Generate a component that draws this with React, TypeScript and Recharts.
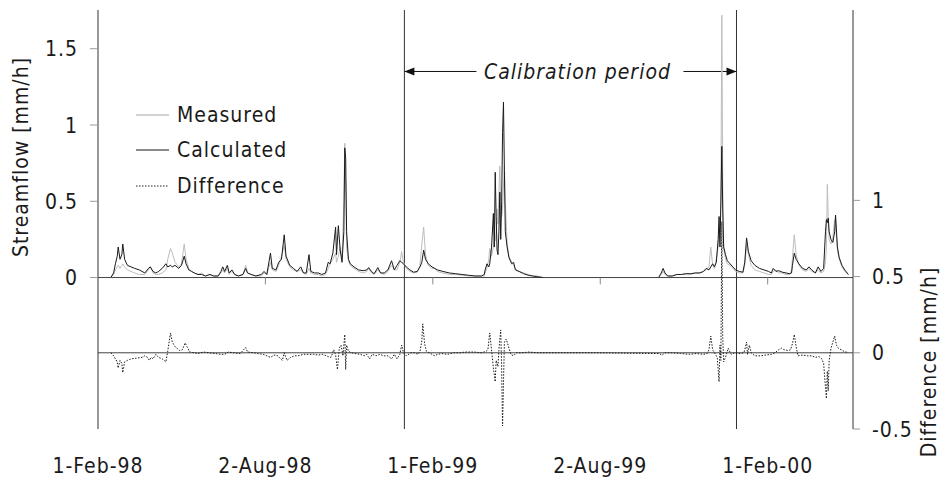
import { LineChart, Line, XAxis, YAxis, ReferenceLine } from 'recharts';

const FONT = "'DejaVu Sans Condensed', 'DejaVu Sans', sans-serif";
const TEXT_COLOR = '#1a1a1a';

// x axis: days since 1-Feb-98
const tickDays = [0, 182.5, 365, 547.5, 730];
const tickLabels = ['1-Feb-98', '2-Aug-98', '1-Feb-99', '2-Aug-99', '1-Feb-00'];
const flowTicks = [0, 0.5, 1, 1.5];
const diffTicks = [-0.5, 0, 0.5, 1];
const calibrationStart = 334;
const calibrationEnd = 696;
const lastDay = 823;

const flowDays = [
  14, 17, 19, 21, 22, 24, 26, 27, 29, 32,
  36, 40, 45, 51, 55, 57, 60, 63, 66, 70,
  74, 76, 79, 81, 84, 88, 91, 94, 96, 99,
  102, 105, 109, 113, 117, 122, 126, 131, 134, 136,
  138, 141, 143, 146, 149, 153, 158, 161, 163, 167,
  172, 178, 181, 184, 188, 190, 194, 197, 200, 203,
  205, 209, 213, 217, 221, 224, 227, 230, 232, 236,
  240, 244, 248, 251, 253, 256, 259, 260, 262, 264,
  266, 268, 269, 270, 271, 273, 275, 279, 284, 289,
  293, 295, 298, 301, 305, 308, 312, 316, 320, 323,
  326, 329, 331, 333, 336, 340, 344, 348, 351, 353,
  355, 357, 360, 364, 367, 370, 376, 383, 390, 397,
  404, 411, 418, 421, 422, 424, 426, 427, 429, 431,
  432, 433, 434, 435, 436, 437, 438, 439, 440, 441,
  442, 443, 444, 446, 448, 451, 453, 455, 459, 464,
  469, 474, 479, 485, 548, 611, 614, 616, 618, 621,
  626, 631, 636, 641, 646, 651, 656, 660, 663, 666,
  668, 670, 672, 674, 676, 677, 678, 679, 680, 681,
  682, 684, 686, 689, 692, 695, 699, 703, 705, 707,
  709, 712, 716, 721, 726, 731, 734, 736, 739, 742,
  746, 750, 754, 756, 757, 759, 761, 764, 768, 772,
  775, 778, 782, 785, 788, 791, 793, 794, 795, 796,
  797, 799, 801, 803, 804, 806, 808, 811, 814, 818,
];

const measured = [
  0.0, 0.02, 0.05, 0.07, 0.08, 0.06, 0.08, 0.09, 0.07, 0.05,
  0.04, 0.03, 0.02, 0.02, 0.05, 0.07, 0.03, 0.02, 0.02, 0.03,
  0.05, 0.12, 0.19, 0.16, 0.1, 0.07, 0.09, 0.22, 0.12, 0.06,
  0.04, 0.03, 0.02, 0.03, 0.01, 0.02, 0.01, 0.01, 0.03, 0.05,
  0.03, 0.06, 0.02, 0.04, 0.02, 0.01, 0.02, 0.08, 0.03, 0.02,
  0.01, 0.01, 0.03, 0.02, 0.1, 0.05, 0.04, 0.08, 0.14, 0.21,
  0.12, 0.07, 0.05, 0.04, 0.05, 0.03, 0.02, 0.06, 0.03, 0.02,
  0.02, 0.01, 0.02, 0.06, 0.09, 0.12, 0.16, 0.1, 0.14, 0.2,
  0.12, 0.5, 0.88, 0.6, 0.2, 0.11, 0.08, 0.06, 0.04, 0.03,
  0.04, 0.06, 0.03, 0.02, 0.05, 0.03, 0.02, 0.04, 0.08, 0.05,
  0.05, 0.1, 0.17, 0.1, 0.06, 0.04, 0.03, 0.035, 0.08, 0.22,
  0.33, 0.15, 0.08, 0.06, 0.06, 0.04, 0.03, 0.02, 0.02, 0.015,
  0.01, 0.01, 0.01, 0.01, 0.03, 0.06, 0.12, 0.19, 0.14, 0.2,
  0.25, 0.24, 0.3, 0.45, 0.35, 0.55, 0.73, 0.48, 0.4, 0.45,
  0.6, 0.73, 0.5, 0.22, 0.14, 0.1, 0.08, 0.06, 0.04, 0.03,
  0.02, 0.01, 0.01, 0.0, null, 0.0, 0.02, 0.04, 0.02, 0.01,
  0.01, 0.02, 0.02, 0.025, 0.02, 0.03, 0.03, 0.04, 0.05, 0.07,
  0.2, 0.08, 0.06, 0.12, 0.2, 0.3, 0.25, 0.55, 1.72, 0.59,
  0.2, 0.12, 0.09, 0.08, 0.06, 0.04, 0.03, 0.03, 0.08, 0.21,
  0.15, 0.08, 0.05, 0.04, 0.03, 0.02, 0.02, 0.04, 0.05, 0.03,
  0.03, 0.02, 0.02, 0.05, 0.13, 0.28, 0.15, 0.08, 0.05, 0.04,
  0.06, 0.04, 0.03, 0.05, 0.03, 0.04, 0.1, 0.2, 0.61, 0.4,
  0.25, 0.22, 0.26, 0.38, 0.35, 0.18, 0.12, 0.07, 0.04, 0.02,
];

const calculated = [
  0.0, 0.03, 0.09, 0.14, 0.2, 0.12, 0.15, 0.22, 0.12, 0.08,
  0.07, 0.06, 0.05, 0.03, 0.06, 0.07, 0.04, 0.03, 0.04, 0.06,
  0.09, 0.07, 0.08, 0.07, 0.08, 0.06, 0.08, 0.14, 0.09, 0.05,
  0.04, 0.03, 0.02, 0.02, 0.01, 0.02, 0.01, 0.01, 0.04, 0.07,
  0.04, 0.08, 0.03, 0.05, 0.02, 0.01, 0.02, 0.06, 0.03, 0.02,
  0.01, 0.02, 0.04, 0.02, 0.16, 0.06, 0.05, 0.1, 0.12, 0.28,
  0.14, 0.08, 0.06, 0.04, 0.07, 0.03, 0.03, 0.15, 0.04, 0.03,
  0.03, 0.02, 0.03, 0.1, 0.09, 0.16, 0.33, 0.15, 0.34, 0.18,
  0.1, 0.3, 0.85, 0.78, 0.3, 0.12, 0.09, 0.07, 0.05, 0.045,
  0.05, 0.065, 0.04, 0.025, 0.065, 0.03, 0.03, 0.05, 0.11, 0.05,
  0.08, 0.11, 0.1, 0.09, 0.07, 0.05, 0.035, 0.04, 0.07, 0.1,
  0.18, 0.12, 0.09, 0.07, 0.06, 0.05, 0.04, 0.03, 0.025, 0.02,
  0.015, 0.01, 0.01, 0.02, 0.05, 0.09, 0.07, 0.09, 0.2, 0.42,
  0.2, 0.69, 0.4, 0.18, 0.15, 0.3, 0.56, 0.25, 0.5, 0.95,
  1.15, 0.7, 0.3, 0.2, 0.13, 0.09, 0.1, 0.05, 0.04, 0.025,
  0.015, 0.01, 0.005, 0.0, null, 0.0, 0.03, 0.06, 0.03, 0.01,
  0.01, 0.02, 0.02, 0.025, 0.025, 0.03, 0.03, 0.04, 0.06, 0.05,
  0.07, 0.09, 0.07, 0.1, 0.25, 0.4, 0.2, 0.5, 0.86, 0.45,
  0.2, 0.15, 0.11, 0.09, 0.07, 0.05, 0.04, 0.035, 0.1, 0.26,
  0.17, 0.11, 0.08, 0.06, 0.05, 0.04, 0.03, 0.06, 0.04, 0.045,
  0.035, 0.03, 0.025, 0.03, 0.08, 0.16, 0.12, 0.09, 0.06, 0.05,
  0.07, 0.05, 0.03, 0.07, 0.04, 0.06, 0.3, 0.38, 0.36, 0.39,
  0.3, 0.25, 0.23, 0.3, 0.41, 0.2, 0.13, 0.08, 0.05, 0.02,
];

const diffDays = [
  14, 17, 19, 21, 22, 24, 26, 27, 29, 32,
  36, 42, 48, 51, 54, 56, 58, 60, 63, 66,
  70, 74, 76, 79, 81, 84, 86, 89, 92, 95,
  97, 100, 105, 109, 115, 121, 128, 134, 138, 142,
  148, 155, 161, 163, 170, 174, 180, 184, 188, 192,
  196, 199, 201, 203, 206, 210, 214, 218, 224, 229,
  235, 240, 245, 251, 254, 257, 259, 261, 263, 265,
  267, 269, 270, 271, 273, 276, 280, 286, 290, 293,
  296, 299, 303, 307, 312, 316, 320, 323, 326, 329,
  331, 333, 336, 341, 345, 349, 351, 353, 354, 356,
  358, 361, 364, 367, 370, 375, 381, 388, 395, 400,
  410, 418, 423, 425, 427, 429, 431, 433, 434, 436,
  437, 439, 440, 441, 442, 443, 445, 448, 450, 453,
  456, 462, 470, 478, 545, 612, 615, 618, 625, 635,
  645, 652, 660, 664, 666, 668, 670, 673, 675, 677,
  678, 679, 680, 681, 682, 684, 687, 690, 694, 700,
  704, 705, 707, 708, 710, 712, 716, 722, 728, 734,
  738, 742, 745, 748, 752, 755, 757, 759, 761, 763,
  768, 773, 778, 782, 786, 789, 791, 792, 794, 795,
  796, 797, 799, 801, 803, 805, 807, 810, 813, 818,
];

const difference = [
  0, -0.02, -0.04, -0.06, -0.1, -0.05, -0.07, -0.13, -0.06, -0.05,
  -0.04, -0.035, -0.03, -0.02, -0.03, -0.05, -0.03, -0.04, -0.01, -0.03,
  -0.04, -0.06, 0.01, 0.13, 0.07, 0.04, 0.03, 0.015, 0.02, 0.065,
  0.04, 0.005, 0, -0.005, 0.005, 0, -0.005, -0.01, -0.01, 0.005,
  0, -0.005, 0.035, 0.005, 0, -0.005, -0.01, -0.02, -0.03, -0.015,
  -0.02, -0.04, -0.05, 0.0, -0.05, -0.03, -0.02, -0.02, -0.01, -0.01,
  -0.01, -0.015, -0.01, -0.025, -0.03, 0.02, -0.015, -0.11, 0.03, 0.05,
  -0.02, 0.12, -0.11, 0.05, 0.01, 0, -0.005, -0.01, -0.02, -0.01,
  -0.04, -0.01, -0.02, -0.01, -0.02, -0.02, -0.04, -0.01, -0.04, -0.01,
  0.05, 0.0, -0.02, 0, 0.0, -0.01, 0.01, 0.08, 0.19, 0.06,
  0.01, 0, -0.01, -0.02, -0.01, -0.005, -0.01, 0, 0, 0.005,
  0.005, 0, 0.01, 0.02, 0.13, 0.02, -0.1, -0.19, -0.05, -0.09,
  0.02, 0.15, -0.1, -0.48, -0.2, 0.07, 0.09, 0.03, -0.01, -0.02,
  0, 0, 0.005, 0, 0, -0.005, -0.015, 0, 0, -0.005,
  -0.01, -0.005, -0.01, -0.005, 0.02, 0.11, 0.02, -0.01, -0.03, -0.19,
  0.05, -0.05, 0.86, 0.1, -0.06, -0.03, 0.03, -0.01, 0, -0.005,
  0, 0.02, 0.07, -0.01, 0.05, 0, -0.02, -0.02, -0.015, -0.01,
  0, 0.02, 0.03, 0.02, 0.015, 0.02, 0.06, 0.12, 0.04, -0.02,
  -0.015, -0.02, -0.02, -0.03, -0.025, -0.04, -0.07, -0.15, -0.3, -0.12,
  -0.25, -0.05, 0.03, 0.07, 0.11, 0.05, 0.03, 0.02, 0.01, 0,
];

const flowData = flowDays.map((day, i) => ({
  day,
  measured: measured[i],
  calculated: calculated[i],
}));
const diffData = diffDays.map((day, i) => ({ day, difference: difference[i] }));

const textStyle = {
  fontFamily: FONT,
  fontStretch: 'condensed',
  fontSize: 21,
  letterSpacing: 1,
  fill: TEXT_COLOR,
} as const;

const XTick = ({ x, y, payload }: any) => {
  const idx = tickDays.indexOf(payload.value);
  return (
    <text x={x} y={y + 42} textAnchor="middle" style={textStyle}>
      {tickLabels[idx]}
    </text>
  );
};

const LeftTick = ({ x, y, payload }: any) => (
  <text x={x} y={y} dy="0.36em" textAnchor="end" style={textStyle}>
    {payload.value}
  </text>
);

const RightTick = ({ x, y, payload }: any) => (
  <text x={x} y={y} dy="0.36em" textAnchor="start" style={textStyle}>
    {payload.value}
  </text>
);

const AxisTitle = ({ cx, cy, text }: { cx: number; cy: number; text: string }) => (
  <text
    x={cx}
    y={cy}
    dy="0.36em"
    textAnchor="middle"
    transform={`rotate(-90 ${cx} ${cy})`}
    style={textStyle}
  >
    {text}
  </text>
);

// arrow line with the label sitting in a gap in the middle
const CalibrationArrow = (p: any) => {
  const { x1, x2, y1 } = p;
  const mid = (x1 + x2) / 2 + 7;
  const head = 10;
  return (
    <g>
      <line x1={x1} y1={y1} x2={mid - 101} y2={y1} stroke="#111" strokeWidth={1} />
      <line x1={mid + 106} y1={y1} x2={x2} y2={y1} stroke="#111" strokeWidth={1} />
      <polygon points={`${x1},${y1} ${x1 + head},${y1 - 4} ${x1 + head},${y1 + 4}`} fill="#111" />
      <polygon points={`${x2},${y1} ${x2 - head},${y1 - 4} ${x2 - head},${y1 + 4}`} fill="#111" />
      <text x={mid} y={y1} dy="0.36em" textAnchor="middle" style={{ ...textStyle, fontStyle: 'italic' }}>
        Calibration period
      </text>
    </g>
  );
};

const legendItems = [
  { label: 'Measured', color: '#c4c4c4', dash: undefined, width: 1.5 },
  { label: 'Calculated', color: '#8a8a8a', dash: undefined, width: 2 },
  { label: 'Difference', color: '#222', dash: '1.5 1.5', width: 1 },
];

export default function App() {
  return (
    <div style={{ position: 'absolute', left: 0, top: 0, width: 945, height: 478, background: '#fff' }}>
      <LineChart width={945} height={478} margin={{ top: 10, right: 0, bottom: 0, left: 0 }}>
        <XAxis
          type="number"
          dataKey="day"
          domain={[0, lastDay]}
          ticks={tickDays}
          allowDataOverflow
          axisLine={false}
          tickLine={false}
          tickSize={0}
          height={49}
          interval={0}
          tick={<XTick />}
        />
        <YAxis
          yAxisId="flow"
          domain={[-0.993, 1.754]}
          ticks={flowTicks}
          allowDataOverflow
          width={98}
          axisLine={{ stroke: '#333' }}
          tickLine={{ stroke: '#9a9a9a' }}
          tickSize={8}
          tickMargin={12}
          tick={<LeftTick />}
          label={<AxisTitle cx={20} cy={157} text="Streamflow [mm/h]" />}
        />
        <YAxis
          yAxisId="diff"
          orientation="right"
          domain={[-0.5, 2.249]}
          ticks={diffTicks}
          allowDataOverflow
          width={92}
          axisLine={false}
          tickLine={{ stroke: '#9a9a9a' }}
          tickSize={7}
          tickMargin={12}
          tick={<RightTick />}
          label={<AxisTitle cx={928} cy={362} text="Difference [mm/h]" />}
        />

        <ReferenceLine yAxisId="flow" y={0} stroke="#444" />
        <ReferenceLine yAxisId="diff" y={0} stroke="#444" />
        <ReferenceLine yAxisId="flow" x={calibrationStart} stroke="#333" />
        <ReferenceLine yAxisId="flow" x={calibrationEnd} stroke="#333" />
        <ReferenceLine
          yAxisId="diff"
          segment={[{ x: lastDay, y: -0.5 }, { x: lastDay, y: 2.249 }]}
          stroke="#333"
          ifOverflow="visible"
        />
        {tickDays.slice(1).map((d) => (
          <ReferenceLine
            key={d}
            yAxisId="flow"
            segment={[{ x: d, y: 0 }, { x: d, y: -0.045 }]}
            stroke="#888"
          />
        ))}
        <ReferenceLine
          yAxisId="flow"
          segment={[{ x: calibrationStart, y: 1.351 }, { x: calibrationEnd, y: 1.351 }]}
          shape={CalibrationArrow}
        />

        <Line
          data={diffData}
          yAxisId="diff"
          dataKey="difference"
          stroke="#1a1a1a"
          strokeWidth={1}
          strokeDasharray="1.5 1.5"
          dot={false}
          type="linear"
          isAnimationActive={false}
        />
        <Line
          data={flowData}
          yAxisId="flow"
          dataKey="measured"
          stroke="#bdbdbd"
          strokeWidth={1}
          dot={false}
          type="linear"
          isAnimationActive={false}
        />
        <Line
          data={flowData}
          yAxisId="flow"
          dataKey="calculated"
          stroke="#1a1a1a"
          strokeWidth={1}
          dot={false}
          type="linear"
          isAnimationActive={false}
        />
      </LineChart>

      {/* legend */}
      <div style={{ position: 'absolute', left: 136, top: 97 }}>
        {legendItems.map((item) => (
          <div key={item.label} style={{ display: 'flex', alignItems: 'center', height: 35.5 }}>
            <svg width={33} height={10} style={{ marginRight: 8 }}>
              <line
                x1={0}
                y1={5}
                x2={33}
                y2={5}
                stroke={item.color}
                strokeWidth={item.width}
                strokeDasharray={item.dash}
              />
            </svg>
            <span
              style={{
                fontFamily: FONT,
                fontStretch: 'condensed',
                fontSize: 21,
                letterSpacing: 1,
                color: TEXT_COLOR,
                lineHeight: '24px',
              }}
            >
              {item.label}
            </span>
          </div>
        ))}
      </div>
    </div>
  );
}
